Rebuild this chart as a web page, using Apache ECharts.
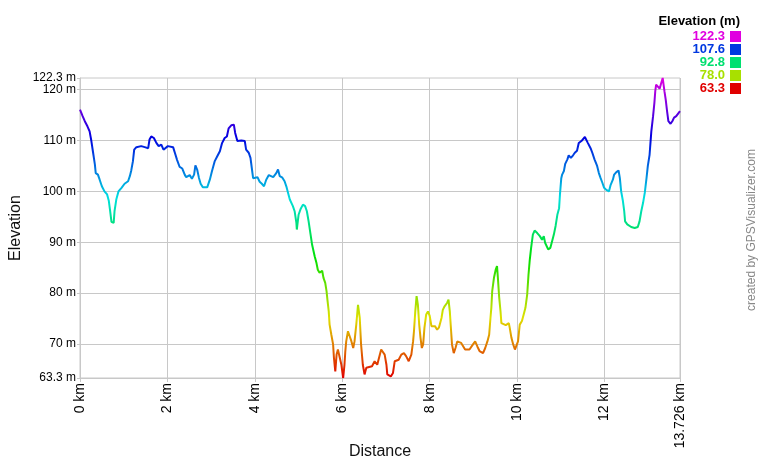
<!DOCTYPE html>
<html>
<head>
<meta charset="utf-8">
<script src="https://cdn.jsdelivr.net/npm/echarts@6/dist/echarts.min.js"></script>
<style>html,body{margin:0;padding:0;background:#fff}#c{width:760px;height:460px}</style>
</head>
<body>
<div id="c"></div>
<script>
// distance along track (km)
const distKm = [0.00,0.06,0.11,0.17,0.22,0.26,0.30,0.34,0.36,0.41,0.45,0.50,0.56,0.62,0.66,0.69,0.72,0.77,0.79,0.83,0.88,0.95,1.02,1.10,1.14,1.17,1.21,1.24,1.29,1.40,1.48,1.56,1.59,1.63,1.69,1.75,1.80,1.86,1.91,1.95,2.01,2.13,2.17,2.22,2.28,2.34,2.40,2.43,2.51,2.56,2.61,2.64,2.68,2.72,2.76,2.81,2.91,2.97,3.02,3.08,3.14,3.20,3.25,3.31,3.36,3.40,3.46,3.52,3.55,3.60,3.69,3.77,3.80,3.86,3.90,3.93,3.96,4.00,4.06,4.11,4.16,4.21,4.26,4.32,4.36,4.42,4.45,4.49,4.53,4.57,4.63,4.68,4.72,4.76,4.80,4.87,4.91,4.95,4.96,5.00,5.05,5.10,5.15,5.19,5.23,5.27,5.31,5.37,5.41,5.44,5.48,5.54,5.57,5.61,5.64,5.66,5.69,5.71,5.75,5.79,5.81,5.84,5.87,5.90,5.94,5.98,6.02,6.05,6.07,6.09,6.13,6.17,6.21,6.25,6.28,6.32,6.36,6.40,6.43,6.47,6.51,6.55,6.58,6.68,6.74,6.80,6.86,6.89,6.93,6.97,7.01,7.03,7.11,7.16,7.20,7.24,7.29,7.35,7.41,7.46,7.52,7.56,7.58,7.62,7.64,7.67,7.70,7.73,7.76,7.79,7.82,7.85,7.88,7.92,7.96,8.00,8.04,8.08,8.12,8.17,8.21,8.27,8.30,8.34,8.40,8.43,8.46,8.49,8.51,8.55,8.59,8.63,8.72,8.76,8.81,8.91,8.99,9.04,9.09,9.14,9.22,9.27,9.32,9.36,9.39,9.41,9.43,9.47,9.51,9.54,9.56,9.59,9.62,9.64,9.68,9.74,9.81,9.83,9.87,9.91,9.95,9.99,10.02,10.06,10.11,10.15,10.19,10.23,10.26,10.29,10.32,10.36,10.40,10.46,10.52,10.57,10.61,10.64,10.71,10.76,10.80,10.84,10.88,10.92,10.96,10.98,11.01,11.03,11.07,11.10,11.15,11.18,11.23,11.28,11.32,11.37,11.41,11.47,11.51,11.55,11.58,11.62,11.68,11.72,11.77,11.83,11.87,11.91,11.95,11.99,12.04,12.10,12.14,12.19,12.22,12.27,12.32,12.35,12.38,12.42,12.45,12.47,12.52,12.61,12.69,12.76,12.80,12.84,12.88,12.92,12.96,12.99,13.03,13.07,13.11,13.14,13.16,13.18,13.22,13.26,13.30,13.33,13.35,13.37,13.40,13.43,13.46,13.51,13.55,13.59,13.64,13.67,13.726];
// elevation (m)
const elevM = [116.1,114.8,113.8,112.8,111.8,109.9,107.6,105.3,103.6,103.3,102.3,101.0,100.0,99.4,98.1,96.1,94.0,93.8,96.1,98.4,100.0,100.7,101.5,102.0,103.0,104.0,105.9,108.2,108.7,108.9,108.7,108.5,110.2,110.8,110.5,109.5,108.9,109.2,108.2,108.5,108.9,108.7,107.6,106.2,104.8,104.5,103.2,102.8,103.2,102.5,103.3,105.1,104.3,102.7,101.5,100.8,100.8,102.3,104.0,105.9,106.9,107.9,109.5,110.5,110.8,112.4,113.0,113.1,111.5,109.9,110.0,109.9,108.2,107.6,106.6,104.6,102.6,102.3,102.8,101.9,101.5,101.0,102.3,103.2,103.2,102.8,102.6,103.6,104.3,103.0,102.7,102.0,101.0,99.7,98.4,97.1,96.1,93.8,92.5,95.4,96.6,97.4,97.1,96.1,94.1,91.8,89.5,87.2,85.9,84.6,84.0,84.4,83.0,82.0,80.4,78.7,76.4,73.8,71.8,69.9,67.2,64.6,67.9,68.9,68.6,65.9,63.3,65.9,68.6,70.5,72.5,72.2,70.5,69.2,70.5,73.8,77.7,75.1,69.9,65.9,64.0,65.3,65.5,65.6,66.6,65.9,67.9,68.9,69.2,67.9,65.9,64.0,63.6,64.3,66.6,66.3,66.9,67.9,68.2,67.6,66.6,66.3,67.9,70.5,72.5,76.4,79.4,77.7,73.8,71.2,69.2,69.9,73.2,75.8,76.4,75.5,73.5,73.2,73.5,72.8,73.2,75.1,76.7,77.4,78.1,78.7,76.4,72.5,69.9,68.2,69.2,70.5,70.2,69.9,68.9,68.9,69.9,70.5,69.5,68.6,68.2,69.2,70.5,71.8,75.1,77.1,80.4,83.0,84.6,85.3,83.0,79.1,76.4,74.1,73.8,73.7,74.1,73.2,71.2,69.9,68.9,69.2,70.5,73.8,74.5,75.8,77.1,79.7,83.6,86.6,88.9,91.5,92.3,91.8,91.2,90.5,91.2,89.9,88.6,88.9,90.2,91.5,93.2,95.4,96.7,99.4,102.6,103.3,104.0,105.4,106.3,107.1,106.6,107.1,107.6,108.0,109.5,109.9,110.2,110.7,110.7,109.5,108.5,107.6,106.3,105.0,103.6,102.6,101.7,100.7,100.3,100.0,101.3,102.3,103.3,103.8,104.1,102.6,100.0,98.1,96.1,94.1,93.5,93.0,92.8,93.0,94.1,96.1,97.7,99.7,102.6,105.0,107.2,111.8,114.8,117.4,119.7,121.0,120.7,120.2,121.4,122.3,121.0,119.7,118.0,115.8,113.8,113.3,113.8,114.5,114.8,115.1,115.8];

const elevMin = 63.3, elevMax = 122.3, distMax = 13.726;
const yTicks = [70, 80, 90, 100, 110, 120];
const yEndTicks = [63.3, 122.3];
const xTicks = [0, 2, 4, 6, 8, 10, 12, 13.726];
// colour scale (hue 0 -> 300) along elevation
const rampColors = ['#e00000','#e07000','#e0e000','#70e000','#00e000','#00e070','#00e0e0','#0070e0','#0000e0','#7000e0','#e000e0'];
// legend
const legendTitle = 'Elevation (m)';
const legendValues = ['122.3','107.6','92.8','78.0','63.3'];
const legendColors = ['#e000e0','#0038e0','#00e070','#a8e000','#e00000'];

const FONT = '"Liberation Sans", Arial, sans-serif';
const gridColor = '#c8c8c8';

const chart = echarts.init(document.getElementById('c'), null, {renderer: 'canvas'});

const legendGraphics = [{
  type: 'text', right: 20, top: 15,
  style: {text: legendTitle, font: 'bold 13px ' + FONT, fill: '#000'}
}];
legendValues.forEach((v, i) => {
  legendGraphics.push({
    type: 'text', right: 35, top: 30 + 13 * i,
    style: {text: v, font: 'bold 13px ' + FONT, fill: legendColors[i]}
  });
  legendGraphics.push({
    type: 'rect', right: 19, top: 31 + 13 * i,
    shape: {width: 11, height: 11},
    style: {fill: legendColors[i]}
  });
});
legendGraphics.push({
  type: 'text', left: 746, top: 'middle', rotation: Math.PI / 2,
  style: {text: 'created by GPSVisualizer.com', font: '12px ' + FONT, fill: '#888'}
});

const yLabelStyle = {margin: 4, fontFamily: FONT, fontSize: 12, color: '#000',
  hideOverlap: false, formatter: v => v + ' m'};

chart.setOption({
  animation: false,
  backgroundColor: '#fff',
  grid: {left: 80, right: 80, top: 78, bottom: 82, show: true, borderColor: gridColor, borderWidth: 1,
    containLabel: false, outerBoundsMode: 'none'},
  xAxis: {
    type: 'value', min: 0, max: distMax,
    name: 'Distance', nameLocation: 'middle', nameGap: 66, nameMoveOverlap: false,
    nameTextStyle: {fontFamily: FONT, fontSize: 16, color: '#111'},
    axisLine: {show: true, lineStyle: {color: gridColor}},
    axisTick: {show: true, length: 4, lineStyle: {color: gridColor}, customValues: xTicks},
    splitLine: {show: true, lineStyle: {color: gridColor, width: 1}},
    axisLabel: {rotate: 90, margin: 5, fontFamily: FONT, fontSize: 14, color: '#000',
      hideOverlap: false, showMinLabel: true, showMaxLabel: true,
      customValues: xTicks, formatter: v => v + ' km'}
  },
  yAxis: [{
    type: 'value', min: elevMin, max: elevMax, position: 'left',
    name: 'Elevation', nameLocation: 'middle', nameGap: 56, nameMoveOverlap: false,
    nameTextStyle: {fontFamily: FONT, fontSize: 16, color: '#111'},
    axisLine: {show: true, lineStyle: {color: gridColor}},
    axisTick: {show: true, length: 3, lineStyle: {color: gridColor}, customValues: yTicks},
    splitLine: {show: true, lineStyle: {color: gridColor, width: 1}},
    axisLabel: Object.assign({customValues: yTicks}, yLabelStyle)
  }, {
    type: 'value', min: elevMin, max: elevMax, position: 'left', offset: 0,
    axisLine: {show: false},
    axisTick: {show: true, length: 3, lineStyle: {color: gridColor}, customValues: yEndTicks},
    splitLine: {show: false},
    axisLabel: Object.assign({customValues: yEndTicks, showMinLabel: true, showMaxLabel: true}, yLabelStyle)
  }],
  visualMap: {
    type: 'continuous', show: false, dimension: 1,
    min: elevMin, max: elevMax,
    inRange: {color: rampColors}
  },
  series: [{
    type: 'line',
    yAxisIndex: 0,
    data: distKm.map((d, i) => [d, elevM[i]]),
    showSymbol: false,
    lineStyle: {width: 2},
    smooth: false
  }],
  graphic: legendGraphics
});
</script>
</body>
</html>
